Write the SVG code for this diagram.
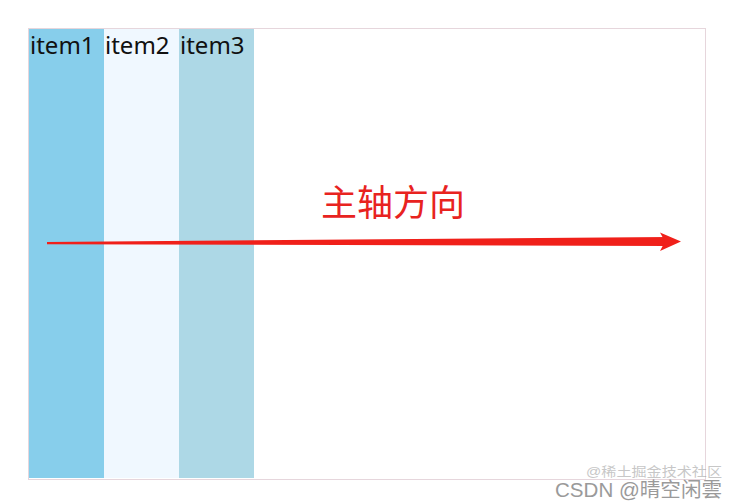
<svg xmlns="http://www.w3.org/2000/svg" width="737" height="503" viewBox="0 0 737 503">
<style>
.lbl{font-family:"Noto Sans","Liberation Sans",sans-serif;font-size:24px;fill:#111}
.cn{font-family:"Noto Sans CJK SC",sans-serif;font-size:36px;fill:#e8231f}
.wm{font-family:"Liberation Sans","Noto Sans CJK SC",sans-serif;fill:#9a9a9a}
</style>
<rect width="737" height="503" fill="#fff"/>
<rect x="28.5" y="28.5" width="677" height="451" fill="none" stroke="#e6d6dc" stroke-width="1"/>
<g id="item1">
<rect x="29" y="29" width="75" height="449" fill="#87ceeb"/>
<text class="lbl" x="30" y="54">item1</text>
</g>
<g id="item2">
<rect x="104" y="29" width="75" height="449" fill="#f0f8ff"/>
<text class="lbl" x="105" y="54">item2</text>
</g>
<g id="item3">
<rect x="179" y="29" width="75" height="449" fill="#add8e6"/>
<text class="lbl" x="180" y="54">item3</text>
</g>
<g id="connectors">
<polygon points="47,242 668,237 668,246 47,244.2" fill="#f0201a"/>
<polygon points="660,232.5 681,241.5 660,251 665,241.5" fill="#f0201a"/>
</g>
<text class="cn" x="321" y="216">主轴方向</text>
<text class="wm" x="586" y="476" font-size="13" opacity="0.55" textLength="136" lengthAdjust="spacingAndGlyphs">@稀土掘金技术社区</text>
<text class="wm" x="555" y="497" font-size="20" textLength="167" lengthAdjust="spacingAndGlyphs">CSDN @晴空闲雲</text>
</svg>
